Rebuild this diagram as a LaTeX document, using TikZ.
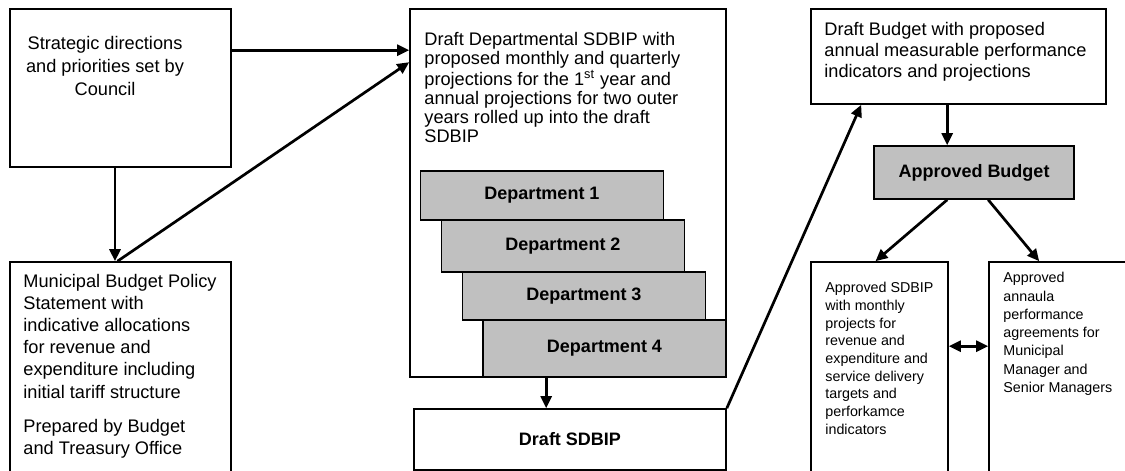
\documentclass[tikz,border=0pt]{standalone}
\usepackage{fontspec}
\setmainfont{Liberation Sans}
\usetikzlibrary{arrows.meta,positioning,fit,calc}
\definecolor{deptGray}{RGB}{192,192,192}

\begin{document}
\begin{tikzpicture}[
    x=0.5pt, y=-0.5pt,
    box/.style={
        rectangle, draw=black, line width=0.8pt, fill=white, inner sep=0pt
    },
    grayBox/.style={
        box, fill=deptGray, font=\fontsize{9}{11}\selectfont\bfseries
    },
    deptBox/.style={
        grayBox, minimum width=121.5pt
    },
    whiteBold/.style={
        box, font=\fontsize{9}{11}\selectfont\bfseries
    },
    boxText/.style={
        inner sep=0pt, anchor=north west, align=left, font=\fontsize{9.1}{11}\selectfont
    },
    smallText/.style={
        boxText, font=\fontsize{7.15}{8.85}\selectfont
    },
    flowArrow/.style={
        -{Triangle[length=6pt, width=5.5pt]}, line width=1.35pt
    },
    bothArrow/.style={
        {Triangle[length=6pt, width=5.5pt]}-{Triangle[length=6pt, width=5.5pt]}, line width=1.35pt
    }
]
\useasboundingbox (0,0) rectangle (1125,471);
\clip (0,0) rectangle (1125,471);

% Left column: Council and Budget Policy Statement
\node[box, fit={(10,9) (231,167)}] (strat) {};
\node[boxText, anchor=north, align=center, font=\fontsize{9.1}{11.4}\selectfont] (stratText) at (105,36) {
    Strategic directions\\
    and priorities set by\\
    Council
};

\node[box, fit={(10,262) (231,490)}] (mbps) {};
\node[boxText, font=\fontsize{9.1}{11.05}\selectfont] (mbpsText) at (23,274) {
    Municipal Budget Policy\\
    Statement with\\
    indicative allocations\\
    for revenue and\\
    expenditure including\\
    initial tariff structure\\[6pt]
    Prepared by Budget\\
    and Treasury Office
};

% Middle column: Departmental SDBIP and stacked departments
\node[box, fit={(410,9) (726,377)}] (deptSdbip) {};
\node[boxText, font=\fontsize{9.1}{9.35}\selectfont] (deptSdbipText) at (424,32) {
    Draft Departmental SDBIP with\\
    proposed monthly and quarterly\\
    projections for the 1\textsuperscript{st} year and\\
    annual projections for two outer\\
    years rolled up into the draft\\
    SDBIP
};

\node[deptBox, minimum height=24.5pt] (dep1) at (542,195.5) {Department 1};
\node[deptBox, minimum height=26pt] (dep2) at (563,246) {Department 2};
\node[deptBox, minimum height=24pt] (dep3) at (584,296) {Department 3};
\node[deptBox, minimum height=28.5pt] (dep4) at (604.5,348.5) {Department 4};

\node[whiteBold, minimum width=156pt, minimum height=30.5pt] (draftSdbip) at (570,439.5) {Draft SDBIP};

% Right column: Budget and approvals
\node[box, fit={(811,9) (1106,104)}] (draftBudget) {};
\node[boxText, font=\fontsize{9.1}{10.4}\selectfont] (draftBudgetText) at (824,22) {
    Draft Budget with proposed\\
    annual measurable performance\\
    indicators and projections
};

\node[grayBox, minimum width=100pt, minimum height=26.5pt] (apprBudget) at (974,172.5) {Approved Budget\hspace{5pt}};

\node[box, fit={(811,262) (948,490)}] (apprSdbip) {};
\node[smallText] (apprSdbipText) at (825,282) {
    Approved SDBIP\\
    with monthly\\
    projects for\\
    revenue and\\
    expenditure and\\
    service delivery\\
    targets and\\
    perforkamce\\
    indicators
};

\node[box, fit={(989,262) (1140,490)}] (perfAgree) {};
\node[smallText, font=\fontsize{7.15}{9.15}\selectfont] (perfAgreeText) at (1003,272) {
    Approved\\
    annaula\\
    performance\\
    agreements for\\
    Municipal\\
    Manager and\\
    Senior Managers
};

% Connectors
\draw[flowArrow] ([xshift=-2.75pt]strat.south) -- ([xshift=-2.75pt]mbps.north);
\draw[flowArrow] ([yshift=-21pt]strat.north east) -- ([yshift=-21pt]strat.north east -| deptSdbip.west);
\draw[flowArrow] ([xshift=-1.5pt]mbps.north) -- ([yshift=-27pt]deptSdbip.north west);
\draw[flowArrow] ([xshift=32pt]dep4.south west) -- ([xshift=32pt]dep4.south west |- draftSdbip.north);
\draw[flowArrow] (draftSdbip.north east) -- ([xshift=25.5pt]draftBudget.south west);
\draw[flowArrow] ([xshift=68.5pt]draftBudget.south west) -- ([xshift=68.5pt]draftBudget.south west |- apprBudget.north);
\draw[flowArrow] ([xshift=37pt]apprBudget.south west) -- ([xshift=-2pt]apprSdbip.north);
\draw[flowArrow] ([xshift=57.5pt]apprBudget.south west) -- ([xshift=25.5pt]perfAgree.north west);
\draw[bothArrow] ([yshift=-42.5pt]apprSdbip.north east) -- ([yshift=-42.5pt]apprSdbip.north east -| perfAgree.west);

\end{tikzpicture}
\end{document}
